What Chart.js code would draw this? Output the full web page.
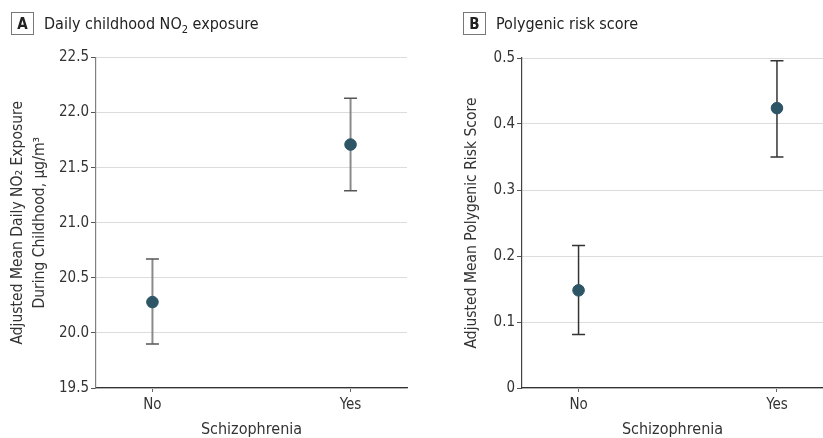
<!DOCTYPE html>
<html>
<head>
<meta charset="utf-8">
<script src="https://cdn.jsdelivr.net/npm/chart.js@4.4.1/dist/chart.umd.min.js"></script>
<style>
  html, body { margin: 0; padding: 0; background: #fff; }
  body { width: 823px; height: 438px; position: relative; overflow: hidden; font-family: "Liberation Sans Narrow", "DejaVu Sans Condensed", "Noto Sans", sans-serif; color: #222; }
  .cw { position: absolute; top: 0; height: 438px; }
  .hdr { position: absolute; top: 12px; height: 23px; display: flex; align-items: center; font-size: 16px; color: #222; }
  .box { width: 21px; height: 21px; border: 1px solid #777; display: flex; align-items: center; justify-content: center; font-weight: bold; font-size: 15px; margin-right: 10px; box-sizing: content-box; }
  sub { font-size: 11px; vertical-align: -4px; line-height: 0; }
</style>
</head>
<body>
<div class="cw" style="left:0;width:412px;"><canvas id="cA"></canvas></div>
<div class="cw" style="left:412px;width:411px;"><canvas id="cB"></canvas></div>
<div class="hdr" style="left:11px;"><div class="box">A</div><span>Daily childhood NO<sub>2</sub> exposure</span></div>
<div class="hdr" style="left:463px;"><div class="box">B</div><span>Polygenic risk score</span></div>
<script>
const categories = ['No', 'Yes'];
const no2Mean  = [20.28, 21.71];
const no2Lower = [19.90, 21.29];
const no2Upper = [20.67, 22.13];
const prsMean  = [0.148, 0.424];
const prsLower = [0.081, 0.350];
const prsUpper = [0.216, 0.496];
const no2Ticks = [19.5, 20.0, 20.5, 21.0, 21.5, 22.0, 22.5];
const prsTicks = [0, 0.1, 0.2, 0.3, 0.4, 0.5];
const xTitle = 'Schizophrenia';
const no2YTitle = ['Adjusted Mean Daily NO\u2082 Exposure', 'During Childhood, \u03bcg/m\u00b3'];
const prsYTitle = 'Adjusted Mean Polygenic Risk Score';

const FONT = '"Liberation Sans Narrow", "DejaVu Sans Condensed", "Noto Sans", sans-serif';

const errorBars = {
  id: 'errorBars',
  beforeDatasetsDraw(chart, args, opts) {
    const {ctx, scales: {x, y}} = chart;
    ctx.save();
    opts.lower.forEach((lo, i) => {
      const px = x.getPixelForValue(i);
      const yl = y.getPixelForValue(lo);
      const yu = y.getPixelForValue(opts.upper[i]);
      ctx.strokeStyle = opts.barColor;
      ctx.lineWidth = opts.barWidth;
      ctx.beginPath(); ctx.moveTo(px, yl); ctx.lineTo(px, yu); ctx.stroke();
      ctx.strokeStyle = opts.capColor;
      ctx.lineWidth = 1.5;
      ctx.beginPath();
      ctx.moveTo(px - 6.5, yl); ctx.lineTo(px + 6.5, yl);
      ctx.moveTo(px - 6.5, yu); ctx.lineTo(px + 6.5, yu);
      ctx.stroke();
    });
    ctx.restore();
  }
};

function makeChart(id, mean, lower, upper, ticks, yTitle, opt) {
  return new Chart(document.getElementById(id), {
    type: 'scatter',
    data: {
      datasets: [{
        data: mean.map((v, i) => ({x: i, y: v})),
        backgroundColor: '#2d5566',
        borderColor: '#2d5566',
        pointRadius: 5.8,
        pointHoverRadius: 5.8,
        clip: false
      }]
    },
    options: {
      responsive: true,
      maintainAspectRatio: false,
      animation: false,
      layout: { autoPadding: false, padding: { top: opt.top, right: opt.right, left: 0, bottom: 0 } },
      plugins: {
        legend: { display: false },
        tooltip: { enabled: false },
        errorBars: { lower, upper, barColor: opt.barColor, capColor: opt.capColor, barWidth: opt.barWidth }
      },
      scales: {
        x: {
          type: 'linear',
          min: -0.285, max: opt.xMax,
          afterBuildTicks(s) { s.ticks = categories.map((c, i) => ({value: i})); },
          afterFit(s) { s.height = 50; s.paddingLeft = 0; s.paddingRight = 0; },
          ticks: { callback: (v) => categories[v], font: { family: FONT, size: 15 }, color: '#333', padding: 4, maxRotation: 0 },
          grid: { drawOnChartArea: false, tickLength: 4, tickColor: '#666', tickWidth: 1 },
          border: { color: '#333', width: 1.2 },
          title: { display: true, text: xTitle, font: { family: FONT, size: 16, lineHeight: 1 }, color: '#333', padding: 0 }
        },
        y: {
          min: ticks[0], max: ticks[ticks.length - 1],
          afterBuildTicks(s) { s.ticks = ticks.map(v => ({value: v})); },
          afterFit(s) { s.width = opt.yWidth; s.paddingTop = 0; s.paddingBottom = 0; },
          ticks: { callback: opt.fmt, font: { family: FONT, size: 15 }, color: '#333', padding: 2 },
          grid: { color: '#dcdcdc', lineWidth: 1, tickLength: 5, tickColor: '#555' },
          border: { color: opt.yAxisColor, width: 1.2 },
          title: { display: true, text: yTitle, font: { family: FONT, size: 15.5, lineHeight: 1.42 }, color: '#333', padding: { top: opt.titlePad, bottom: 0 } }
        }
      }
    },
    plugins: [errorBars]
  });
}

makeChart('cA', no2Mean, no2Lower, no2Upper, no2Ticks, no2YTitle, {
  top: 57.5, right: 5, xMax: 1.285, yWidth: 96, titlePad: 7, fmt: v => v.toFixed(1),
  barColor: '#8a8a8a', capColor: '#555', barWidth: 2, yAxisColor: '#808080'
});
makeChart('cB', prsMean, prsLower, prsUpper, prsTicks, prsYTitle, {
  top: 58, right: 0, xMax: 1.232, yWidth: 110, titlePad: 48.7, fmt: v => v === 0 ? '0' : v.toFixed(1),
  barColor: '#333', capColor: '#333', barWidth: 1.5, yAxisColor: '#444'
});
</script>
</body>
</html>
